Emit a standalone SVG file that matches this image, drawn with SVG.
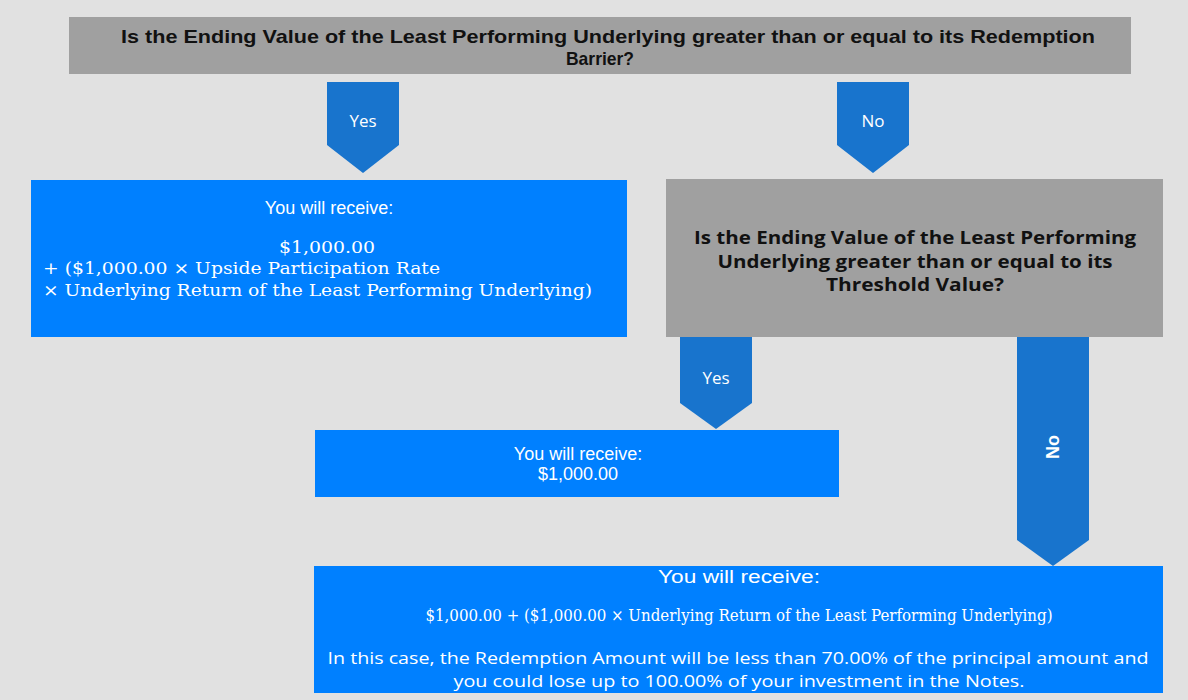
<svg xmlns="http://www.w3.org/2000/svg" width="1188" height="700" viewBox="0 0 1188 700">
<style>
.q{fill:#a0a0a0}
.b{fill:#0080ff}
.a{fill:#1874cd}
.tq{font-family:"Liberation Sans",Arial,sans-serif;font-weight:bold;font-size:19px;fill:#111}
.tq2{font-family:"Open Sans","Liberation Sans",sans-serif;font-weight:bold;font-size:18px;fill:#111}
.ta{font-family:"Open Sans","Liberation Sans",sans-serif;font-size:17px;fill:#fff}
.tw{font-family:"Liberation Sans",Arial,sans-serif;font-size:18px;fill:#fff}
.ts{font-family:"DejaVu Serif","Liberation Serif",serif;font-size:16px;fill:#fff}
.tc{font-family:"Open Sans","Liberation Sans",sans-serif;font-size:16px;fill:#fff}
</style>
<rect width="1188" height="700" fill="#e1e1e1"/>
<g id="connectors">
<g id="arrow-yes-1"><polygon class="a" points="327,82 399,82 399,145 363,173 327,145"/><text class="ta" x="363" y="127" text-anchor="middle">Yes</text></g>
<g id="arrow-no-1"><polygon class="a" points="837,82 909,82 909,145 873,173 837,145"/><text class="ta" x="873" y="127" text-anchor="middle">No</text></g>
<g id="arrow-yes-2"><polygon class="a" points="680,337 752,337 752,403 716,429 680,403"/><text class="ta" x="716" y="384" text-anchor="middle">Yes</text></g>
<g id="arrow-no-2"><polygon class="a" points="1017,337 1089,337 1089,540 1053,566 1017,540"/><text class="tw" font-weight="bold" font-size="17" x="0" y="0" text-anchor="middle" transform="translate(1059,447) rotate(-90)">No</text></g>
</g>
<g id="q1">
<rect class="q" x="69" y="17" width="1062" height="57"/>
<text class="tq" x="608" y="43" text-anchor="middle" textLength="974" lengthAdjust="spacingAndGlyphs">Is the Ending Value of the Least Performing Underlying greater than or equal to its Redemption</text>
<text class="tq" x="600" y="65" text-anchor="middle" textLength="68" lengthAdjust="spacingAndGlyphs">Barrier?</text>
</g>
<g id="r1">
<rect class="b" x="31" y="180" width="596" height="157"/>
<text class="tw" x="329" y="214" text-anchor="middle">You will receive:</text>
<text class="ts" x="327" y="253" text-anchor="middle" textLength="96" lengthAdjust="spacingAndGlyphs">$1,000.00</text>
<text class="ts" x="43" y="274" textLength="397" lengthAdjust="spacingAndGlyphs">+ ($1,000.00 × Upside Participation Rate</text>
<text class="ts" x="43" y="296" textLength="549" lengthAdjust="spacingAndGlyphs">× Underlying Return of the Least Performing Underlying)</text>
</g>
<g id="q2">
<rect class="q" x="666" y="179" width="497" height="158"/>
<text class="tq2" x="915" y="244" text-anchor="middle" textLength="442" lengthAdjust="spacingAndGlyphs">Is the Ending Value of the Least Performing</text>
<text class="tq2" x="915" y="268" text-anchor="middle" textLength="395" lengthAdjust="spacingAndGlyphs">Underlying greater than or equal to its</text>
<text class="tq2" x="915" y="291" text-anchor="middle" textLength="178" lengthAdjust="spacingAndGlyphs">Threshold Value?</text>
</g>
<g id="r2">
<rect class="b" x="315" y="430" width="524" height="67"/>
<text class="tw" x="578" y="460" text-anchor="middle">You will receive:</text>
<text class="tw" x="578" y="480" text-anchor="middle">$1,000.00</text>
</g>
<g id="r3">
<rect class="b" x="314" y="566" width="849" height="127"/>
<text class="tw" font-size="19" x="739" y="583" text-anchor="middle" textLength="162" lengthAdjust="spacingAndGlyphs">You will receive:</text>
<text class="ts" font-size="13" x="739" y="621" text-anchor="middle" textLength="627" lengthAdjust="spacingAndGlyphs">$1,000.00 + ($1,000.00 × Underlying Return of the Least Performing Underlying)</text>
<text class="tc" x="738" y="664" text-anchor="middle" textLength="821" lengthAdjust="spacingAndGlyphs">In this case, the Redemption Amount will be less than 70.00% of the principal amount and</text>
<text class="tc" x="739" y="687" text-anchor="middle" textLength="571" lengthAdjust="spacingAndGlyphs">you could lose up to 100.00% of your investment in the Notes.</text>
</g>
</svg>
